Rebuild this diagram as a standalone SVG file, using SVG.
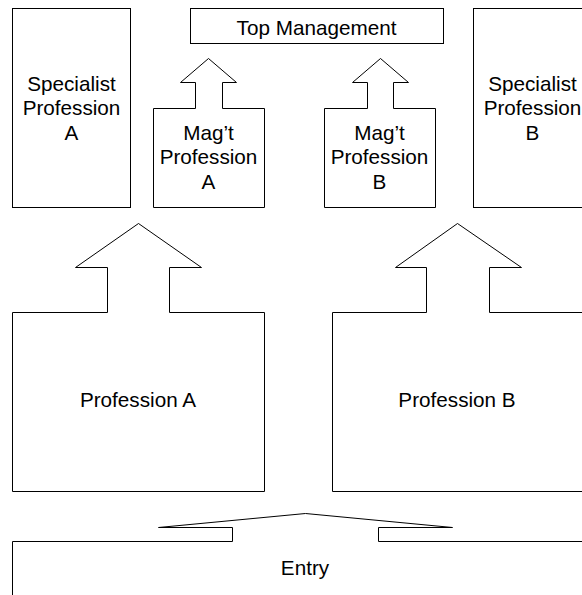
<svg xmlns="http://www.w3.org/2000/svg" width="582" height="595" viewBox="0 0 582 595">
  <style>
    .shape { fill: #ffffff; stroke: #000000; stroke-width: 1; stroke-linejoin: miter; }
    .label { font-family: "Liberation Sans", Arial, sans-serif; font-size: 20.7px; fill: #000000; text-anchor: middle; }
  </style>
  <rect width="582" height="595" fill="#ffffff"/>

  <!-- Top level box -->
  <g id="top-management">
    <rect class="shape" x="190.5" y="8.5" width="253" height="35"/>
    <text class="label" x="316.5" y="35">Top Management</text>
  </g>

  <!-- Specialist columns -->
  <g id="specialist-a">
    <rect class="shape" x="12.5" y="8.5" width="118" height="199"/>
    <text class="label" x="71.5" y="91">Specialist</text>
    <text class="label" x="71.5" y="115">Profession</text>
    <text class="label" x="71.5" y="140">A</text>
  </g>
  <g id="specialist-b">
    <rect class="shape" x="473.5" y="8.5" width="118" height="199"/>
    <text class="label" x="532.5" y="91">Specialist</text>
    <text class="label" x="532.5" y="115">Profession</text>
    <text class="label" x="532.5" y="140">B</text>
  </g>

  <!-- Management professions with upward arrows -->
  <g id="mgmt-a">
    <path class="shape" d="M153.5,207.5 V108.5 H195.5 V82.5 H180.5 L208.5,58.5 L236.5,82.5 H222.5 V108.5 H264.5 V207.5 Z"/>
    <text class="label" x="208.5" y="140">Mag’t</text>
    <text class="label" x="208.5" y="164">Profession</text>
    <text class="label" x="208.5" y="189">A</text>
  </g>
  <g id="mgmt-b">
    <path class="shape" d="M324.5,207.5 V108.5 H367.5 V82.5 H352.5 L380.5,58.5 L408.5,82.5 H393.5 V108.5 H435.5 V207.5 Z"/>
    <text class="label" x="379.5" y="140">Mag’t</text>
    <text class="label" x="379.5" y="164">Profession</text>
    <text class="label" x="379.5" y="189">B</text>
  </g>

  <!-- Base professions with upward arrows -->
  <g id="profession-a">
    <path class="shape" d="M12.5,491.5 V312.5 H107.5 V267.5 H75.5 L138.5,223.5 L201.5,267.5 H169.5 V312.5 H264.5 V491.5 Z"/>
    <text class="label" x="138" y="407">Profession A</text>
  </g>
  <g id="profession-b">
    <path class="shape" d="M332.5,491.5 V312.5 H426.5 V267.5 H395.5 L457.5,223.5 L521.5,267.5 H489.5 V312.5 H600 V491.5 Z"/>
    <text class="label" x="457" y="407">Profession B</text>
  </g>

  <!-- Entry level with wide shallow arrow -->
  <g id="entry">
    <path class="shape" d="M12.5,600 V541.5 H232.5 V527.5 H158.5 L305.5,513.5 L452.5,527.5 H378.5 V541.5 H600 V600 Z"/>
    <text class="label" x="305" y="575">Entry</text>
  </g>
</svg>
